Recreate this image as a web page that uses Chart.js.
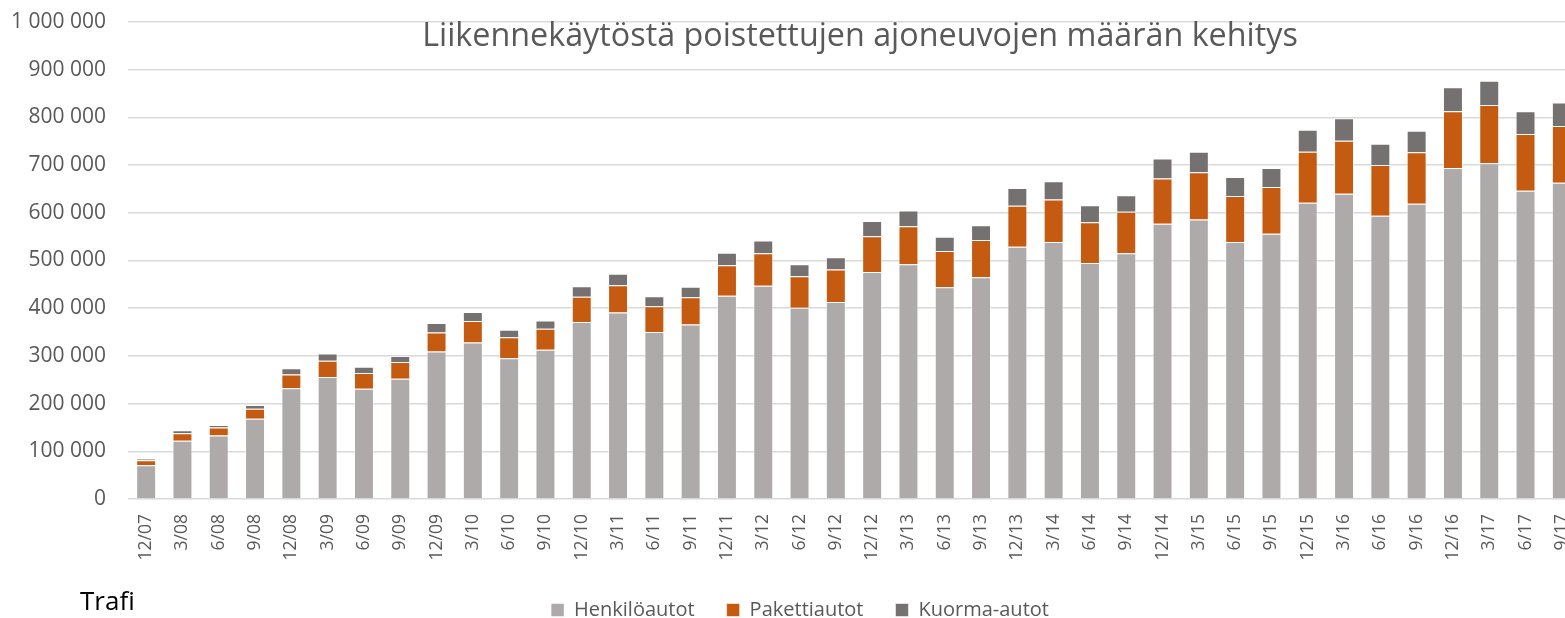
<!DOCTYPE html>
<html>
<head>
<meta charset="utf-8">
<script src="https://cdn.jsdelivr.net/npm/chart.js@4/dist/chart.umd.min.js"></script>
<style>
  html, body { margin: 0; padding: 0; background: #fff; overflow: hidden; width: 1565px; height: 618px; }
  #wrap { position: relative; width: 1600px; height: 618px; }
  #c { position: absolute; left: 0; top: 0; }
  #title { position: absolute; left: 0; width: 1720px; top: 17px; text-align: center; font-family: "Open Sans", sans-serif; font-size: 32.3px; line-height: 1; color: #595959; white-space: nowrap; }
  #source { position: absolute; left: 80px; top: 587px; font-family: "Open Sans", sans-serif; font-size: 26px; line-height: 1; color: #000; white-space: nowrap; }
</style>
</head>
<body>
<div id="wrap">
  <canvas id="c" width="1600" height="618"></canvas>
  <div id="title">Liikennekäytöstä poistettujen ajoneuvojen määrän kehitys</div>
  <div id="source">Trafi</div>
</div>
<script>
const categories = ['12/07','3/08','6/08','9/08','12/08','3/09','6/09','9/09','12/09','3/10','6/10','9/10','12/10','3/11','6/11','9/11','12/11','3/12','6/12','9/12','12/12','3/13','6/13','9/13','12/13','3/14','6/14','9/14','12/14','3/15','6/15','9/15','12/15','3/16','6/16','9/16','12/16','3/17','6/17','9/17'];

const henkiloautot = [71000,122000,133000,168000,232000,256000,231000,252000,309000,328000,295000,313000,371000,391000,350000,366000,426000,447000,401000,413000,476000,492000,444000,465000,529000,539000,495000,515000,577000,586000,539000,556000,621000,640000,594000,619000,694000,704000,646000,663000];

const pakettiautot = [10000,16000,17000,21000,29000,34000,33000,35000,40000,45000,44000,44000,53000,57000,54000,57000,64000,68000,66000,68000,75000,80000,76000,78000,86000,89000,85000,87000,95000,99000,96000,98000,107000,111000,106000,108000,119000,122000,119000,119000];

const kuormaautot = [4000,6000,5000,8000,13000,15000,13000,13000,20000,19000,16000,17000,22000,24000,21000,22000,26000,27000,25000,26000,32000,33000,30000,31000,37000,38000,36000,35000,42000,43000,40000,40000,46000,47000,45000,45000,50000,51000,48000,49000];

const seriesNames = ['Henkilöautot', 'Pakettiautot', 'Kuorma-autot'];
const seriesColors = ['#aeaaaa', '#c55a11', '#767171'];

const yMin = 0, yMax = 1000000, yStep = 100000;

function fmt(v) {
  return String(v).replace(/\B(?=(\d{3})+(?!\d))/g, ' ');
}

const series = [henkiloautot, pakettiautot, kuormaautot];
const datasets = series.map((d, i) => ({
  label: seriesNames[i],
  data: d,
  backgroundColor: seriesColors[i],
  borderColor: 'rgba(255,255,255,0.55)',
  borderWidth: 1,
  categoryPercentage: 1.0,
  barPercentage: 0.55,
  stack: 's',
  yAxisID: 'y'
}));

new Chart(document.getElementById('c'), {
  type: 'bar',
  data: { labels: categories, datasets },
  options: {
    responsive: false,
    animation: false,
    devicePixelRatio: 1,
    layout: { autoPadding: false, padding: { top: 22, left: 0, right: 0, bottom: -12 } },
    plugins: {
      title: { display: false },
      tooltip: { enabled: false },
      legend: {
        position: 'bottom',
        labels: {
          boxWidth: 13,
          boxHeight: 13,
          padding: 32,
          color: '#595959',
          font: { family: 'Open Sans', size: 20 }
        }
      }
    },
    scales: {
      x: {
        stacked: true,
        grid: { display: false, drawTicks: false },
        border: { display: false },
        ticks: {
          autoSkip: false,
          minRotation: 90,
          maxRotation: 90,
          padding: 15,
          color: '#595959',
          font: { family: 'Open Sans', size: 17.5 }
        },
        afterFit: (s) => { s.height = 69; }
      },
      y: {
        stacked: true,
        position: 'left',
        min: yMin,
        max: yMax,
        grid: { color: '#d9d9d9', lineWidth: 1.5, drawTicks: false },
        border: { display: false },
        ticks: {
          stepSize: yStep,
          padding: 22,
          color: '#595959',
          font: { family: 'Open Sans', size: 21 },
          callback: (v) => fmt(v)
        },
        afterFit: (s) => { s.width = 128; s.paddingTop = 0; s.paddingBottom = 0; }
      },
      yr: {
        type: 'linear',
        position: 'right',
        grid: { display: false, drawTicks: false },
        border: { display: false },
        ticks: { display: false },
        afterFit: (s) => { s.width = 20; s.paddingTop = 0; s.paddingBottom = 0; }
      }
    }
  }
});
</script>
</body>
</html>
